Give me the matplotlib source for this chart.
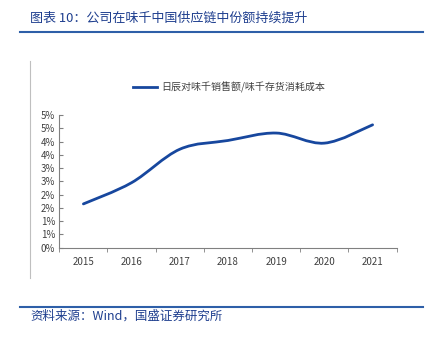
import matplotlib
matplotlib.use("Agg")
import matplotlib.pyplot as plt
from matplotlib.path import Path
from matplotlib.patches import PathPatch
from matplotlib.lines import Line2D
import numpy as np

plt.rcParams['font.family'] = ['Noto Sans CJK SC', 'DejaVu Sans']

years = ['2015', '2016', '2017', '2018', '2019', '2020', '2021']
values = [1.65, 2.45, 3.71, 4.04, 4.32, 3.94, 4.63]
ytick_vals = [0, 0.5, 1.0, 1.5, 2.0, 2.5, 3.0, 3.5, 4.0, 4.5, 5.0]
ytick_labels = ['0%', '1%', '1%', '2%', '2%', '3%', '3%', '4%', '4%', '5%', '5%']
series_name = '日辰对味千销售额/味千存货消耗成本'
title = '图表 10：公司在味千中国供应链中份额持续提升'
source = '资料来源：Wind，国盛证券研究所'

W, H = 430, 342
fig = plt.figure(figsize=(W / 100, H / 100), dpi=100)
blue = '#17479E'
title_blue = '#1F3F8F'

ax = fig.add_axes([59.3 / W, 1 - 247.7 / H, (396.7 - 59.3) / W, (247.7 - 115) / H])
ax.set_xlim(-0.5, len(years) - 0.5)
ax.set_ylim(0, 5)

# smooth curve (Catmull-Rom -> Bezier) through data points
x = np.arange(len(years), dtype=float)
y = np.array(values)
pts = np.column_stack([x, y])
verts = [tuple(pts[0])]
codes = [Path.MOVETO]
n = len(pts)
for i in range(n - 1):
    p0 = pts[i - 1] if i > 0 else pts[i]
    p1 = pts[i]
    p2 = pts[i + 1]
    p3 = pts[i + 2] if i + 2 < n else pts[i + 1]
    c1 = p1 + (p2 - p0) / 6
    c2 = p2 - (p3 - p1) / 6
    verts += [tuple(c1), tuple(c2), tuple(p2)]
    codes += [Path.CURVE4] * 3
patch = PathPatch(Path(verts, codes), facecolor='none', edgecolor=blue, lw=2.0,
                  capstyle='round', joinstyle='round')
ax.add_patch(patch)

ax.set_yticks(ytick_vals)
ax.set_yticklabels(ytick_labels)
ax.set_xticks(x)
ax.set_xticklabels(years)
ax.set_xticks(np.arange(len(years) + 1) - 0.5, minor=True)
ax.tick_params(axis='x', which='major', length=0, pad=7, labelsize=7, labelcolor='#404040')
ax.tick_params(axis='x', which='minor', length=3, direction='out', color='#808080')
ax.tick_params(axis='y', length=3, direction='in', color='#808080', labelsize=7,
               labelcolor='#404040', pad=3)
for s in ['top', 'right']:
    ax.spines[s].set_visible(False)
for s in ['left', 'bottom']:
    ax.spines[s].set_color('#808080')
    ax.spines[s].set_linewidth(0.8)

# legend
fig.add_artist(Line2D([133 / W, 157 / W], [1 - 87 / H, 1 - 87 / H], color=blue, lw=2.0))
fig.text(161 / W, 1 - 87 / H, series_name, fontsize=7.2, color='#404040', va='center', ha='left')

# title and decorations
fig.text(30 / W, 1 - 18 / H, title, fontsize=9.4, color=title_blue, va='center', ha='left',
         style='italic')
fig.add_artist(Line2D([20 / W, 423 / W], [1 - 31.5 / H, 1 - 31.5 / H], color='#2E5FA8', lw=1.5))
fig.add_artist(Line2D([29.5 / W, 29.5 / W], [1 - 61 / H, 1 - 278 / H], color='#BFBFBF', lw=0.8))
fig.add_artist(Line2D([20 / W, 423 / W], [1 - 307 / H, 1 - 307 / H], color='#2E5FA8', lw=1.5))
fig.text(30 / W, 1 - 316 / H, source, fontsize=9, color=title_blue, va='center', ha='left',
         style='italic')

fig.savefig('out.png', dpi=100)
